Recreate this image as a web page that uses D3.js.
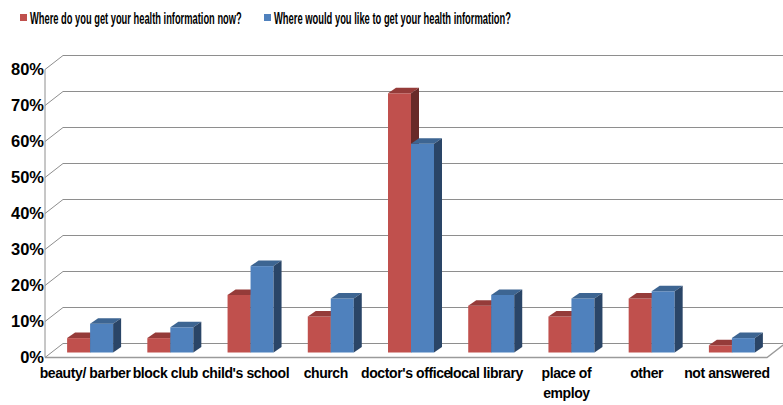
<!DOCTYPE html>
<html>
<head>
<meta charset="utf-8">
<script src="https://cdn.jsdelivr.net/npm/d3@7"></script>
<style>
  body { margin: 0; background: #fff; }
  svg { display: block; }
  text { font-family: "Liberation Sans", Arial, sans-serif; font-weight: bold; fill: #000; }
</style>
</head>
<body>
<svg id="chart" width="783" height="405"></svg>
<script>
const categories = ["beauty/ barber", "block club", "child's school", "church", "doctor's office", "local library", "place of employ", "other", "not answered"];
const categoryLines = [["beauty/ barber"], ["block club"], ["child's school"], ["church"], ["doctor's office"], ["local library"], ["place of", "employ"], ["other"], ["not answered"]];
const seriesNames = ["Where do you get your health information now?", "Where would you like to get your health information?"];
const nowValues = [0.04, 0.04, 0.16, 0.10, 0.72, 0.13, 0.10, 0.15, 0.02];
const likeValues = [0.08, 0.07, 0.24, 0.15, 0.58, 0.16, 0.15, 0.17, 0.04];
const yTicks = [0, 0.1, 0.2, 0.3, 0.4, 0.5, 0.6, 0.7, 0.8];

const colors = [
  { front: "#C0504D", top: "#953B39", side: "#682A28" },
  { front: "#4F81BD", top: "#3D6592", side: "#2A4567" }
];

const svg = d3.select("#chart");
const left = 45, right = 767, floorY = 357.5, topY = 69.5;
const depth = { dx: 18, dy: -14 };      // wall / floor depth
const plane = { dx: 5, dy: -5 };        // bar front plane offset
const barDepth = { dx: 8, dy: -5.5 };   // bar thickness

const x = d3.scaleBand().domain(categories).range([left, right]).paddingInner(0.4266).paddingOuter(0.2133);
const xs = d3.scaleBand().domain([0, 1]).range([0, x.bandwidth()]);
const y = d3.scaleLinear().domain([0, 0.8]).range([floorY, topY]);

const gridColor = "#8e8e8e";

// gridlines (left diagonal + back horizontal)
const grid = svg.append("g");
yTicks.forEach(t => {
  const yf = y(t);
  grid.append("path")
    .attr("d", `M${left},${yf}L${left + depth.dx},${yf + depth.dy}L${800},${yf + depth.dy}`)
    .attr("fill", "none").attr("stroke", gridColor).attr("stroke-width", 1);
});
grid.append("line").attr("x1", left).attr("x2", left).attr("y1", y(0)).attr("y2", y(0.8))
  .attr("stroke", gridColor).attr("stroke-width", 1);
grid.append("path")
  .attr("d", `M${left},${floorY}L${right},${floorY}L${right + depth.dx},${floorY + depth.dy}`)
  .attr("fill", "none").attr("stroke", "#9a9a9a").attr("stroke-width", 1.3);

// bars
const bars = svg.append("g");
const series = [nowValues, likeValues];
categories.forEach((c, i) => {
  series.forEach((vals, s) => {
    const v = vals[i];
    const x0 = x(c) + xs(s) + plane.dx;
    const w = xs.bandwidth();
    const y0 = y(0) + plane.dy;
    const yt = y(v) + plane.dy;
    const col = colors[s];
    bars.append("rect").attr("x", x0).attr("y", yt).attr("width", w).attr("height", y0 - yt)
      .attr("fill", col.front);
    bars.append("path")
      .attr("d", `M${x0},${yt}L${x0 + barDepth.dx},${yt + barDepth.dy}L${x0 + w + barDepth.dx},${yt + barDepth.dy}L${x0 + w},${yt}Z`)
      .attr("fill", col.top);
    bars.append("path")
      .attr("d", `M${x0 + w},${yt}L${x0 + w + barDepth.dx},${yt + barDepth.dy}L${x0 + w + barDepth.dx},${y0 + barDepth.dy}L${x0 + w},${y0}Z`)
      .attr("fill", col.side);
  });
});

// y axis labels
const yl = svg.append("g");
yTicks.forEach(t => {
  yl.append("text").attr("x", 44).attr("y", y(t)).attr("dy", "0.36em")
    .attr("text-anchor", "end").style("font-size", "16.5px")
    .text(d3.format(".0%")(t));
});

// category labels
const xl = svg.append("g");
categories.forEach((c, i) => {
  const cx = left + (right - left) / categories.length * (i + 0.5);
  const t = xl.append("text").attr("text-anchor", "middle").style("font-size", "14px")
    .style("letter-spacing", "-0.4px");
  categoryLines[i].forEach((ln, k) => {
    t.append("tspan").attr("x", cx).attr("y", 378 + k * 20).text(ln);
  });
});

// legend (horizontally condensed text as in the reference)
const legend = [
  { sx: 20, tx: 30, w: 212 },
  { sx: 264, tx: 274, w: 237 }
];
seriesNames.forEach((name, s) => {
  svg.append("rect").attr("x", legend[s].sx).attr("y", 14).attr("width", 7).attr("height", 7)
    .attr("fill", colors[s].front);
  const t = svg.append("text").attr("x", 0).attr("y", 0).style("font-size", "16px").text(name);
  const nat = t.node().getComputedTextLength();
  t.attr("transform", `translate(${legend[s].tx},23.5) scale(${legend[s].w / nat},1)`);
});
</script>
</body>
</html>
